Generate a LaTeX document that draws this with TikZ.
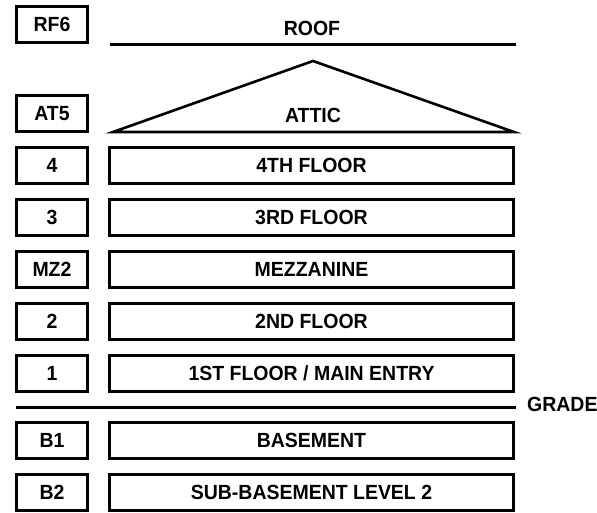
\documentclass[tikz,border=0pt]{standalone}
\usepackage{fontspec}
\setmainfont{Liberation Sans}[FakeStretch=0.95]
\begin{document}
\begin{tikzpicture}[x=1pt,y=-1pt,
  txt/.style={font=\bfseries\fontsize{20.5}{21}\selectfont, inner sep=0pt, text height=14.7pt, text depth=0pt},
  lvl/.style={txt, draw=black, line width=3pt, minimum width=71pt, minimum height=36pt},
  floor/.style={txt, draw=black, line width=3pt, minimum width=404pt, minimum height=36pt},
  bar/.style={line width=3pt, draw=black},
  roofline/.style={line width=2.6pt, draw=black, line join=miter}]
\useasboundingbox (0,0) rectangle (597,512);
% level tags
\node[lvl] (rf6) at (52,24.5) {RF6};
\node[lvl] (at5) at (52,113.5) {AT5};
\node[lvl] (l4) at (52,165.5) {4};
\node[lvl] (l3) at (52,217.5) {3};
\node[lvl] (mz2) at (52,269.5) {MZ2};
\node[lvl] (l2) at (52,321.5) {2};
\node[lvl] (l1) at (52,373.5) {1};
\node[lvl] (b1) at (52,440.5) {B1};
\node[lvl] (b2) at (52,492.5) {B2};
% roof and attic
\coordinate (roofL) at (110,44);
\coordinate (roofR) at (516,44);
\draw[bar] (roofL) -- (roofR);
\node[txt] (roof) at (312,28) {ROOF};
\coordinate (atL) at (113,132);
\coordinate (atTop) at (313,61);
\coordinate (atR) at (514,132);
\draw[roofline] (atL) -- (atTop) -- (atR) -- cycle;
\node[txt] (attic) at (313,115) {ATTIC};
% floors
\node[floor] (f4) at (311.5,165.5) {4TH FLOOR};
\node[floor] (f3) at (311.5,217.5) {3RD FLOOR};
\node[floor] (fmz) at (311.5,269.5) {MEZZANINE};
\node[floor] (f2) at (311.5,321.5) {2ND FLOOR};
\node[floor] (f1) at (311.5,373.5) {1ST FLOOR / MAIN ENTRY};
\node[floor] (fb1) at (311.5,440.5) {BASEMENT};
\node[floor] (fb2) at (311.5,492.5) {SUB-BASEMENT LEVEL 2};
% grade
\coordinate (gL) at (16,407);
\coordinate (gR) at (516,407);
\draw[bar] (gL) -- (gR);
\node[txt, anchor=west] (grade) at (527,404.5) {GRADE};
\end{tikzpicture}
\end{document}
